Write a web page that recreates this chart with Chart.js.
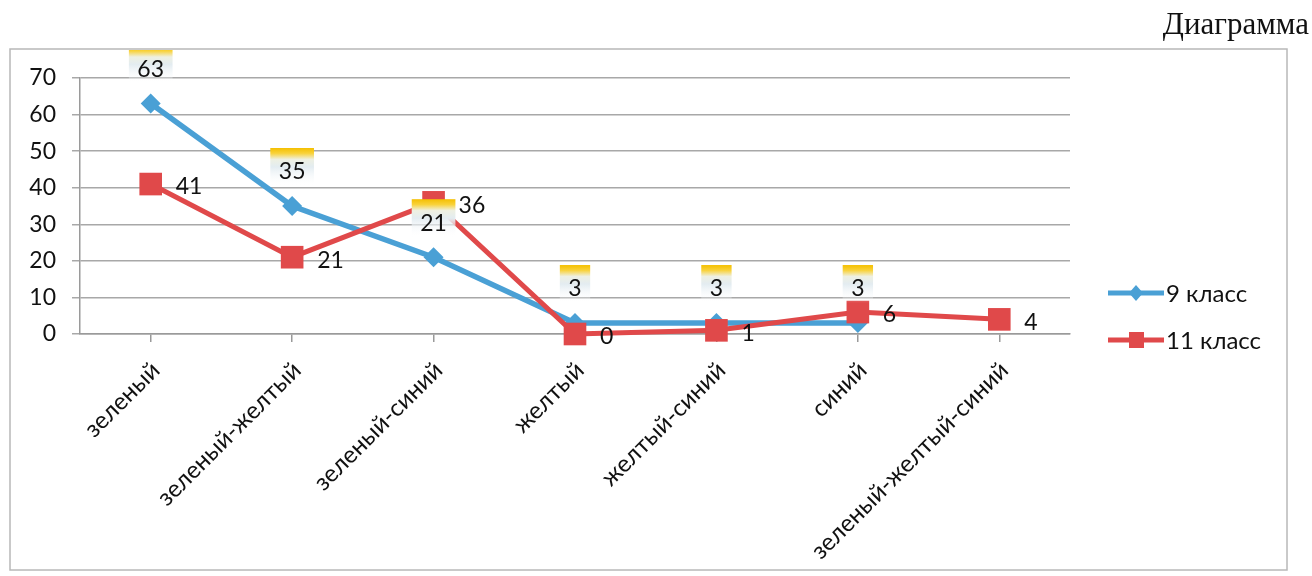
<!DOCTYPE html>
<html>
<head>
<meta charset="utf-8">
<script src="https://cdn.jsdelivr.net/npm/chart.js@4/dist/chart.umd.min.js"></script>
<style>
  html, body { margin: 0; padding: 0; background: #fff; }
  #wrap { width: 1312px; height: 576px; position: relative; }
</style>
</head>
<body>
<div id="wrap"><canvas id="c" width="1312" height="576"></canvas></div>
<script>
const categories = ['зеленый', 'зеленый-желтый', 'зеленый-синий', 'желтый', 'желтый-синий', 'синий', 'зеленый-желтый-синий'];
const grade9 = [63, 35, 21, 3, 3, 3, null];
const grade11 = [41, 21, 36, 0, 1, 6, 4];
const seriesNames = ['9 класс', '11 класс'];
const yMin = 0, yMax = 70, yStep = 10;
const titleText = 'Диаграмма';

const BLUE = '#4aa0d5';
const RED = '#e0494a';
const FONT = 'Lato';
const TXT = '#111';

const frame = { l: 10, t: 49, r: 1287, b: 570 };

const decor = {
  id: 'decor',
  beforeDraw(chart) {
    const ctx = chart.ctx;
    ctx.save();
    ctx.fillStyle = '#fff';
    ctx.fillRect(0, 0, chart.width, chart.height);
    ctx.strokeStyle = '#b8b8b8';
    ctx.lineWidth = 1.5;
    ctx.strokeRect(frame.l, frame.t, frame.r - frame.l, frame.b - frame.t);
    ctx.restore();
  },
  afterDatasetsDraw(chart) {
    const ctx = chart.ctx;
    ctx.save();
    ctx.beginPath();
    ctx.rect(frame.l + 1, frame.t + 1, frame.r - frame.l - 2, frame.b - frame.t - 2);
    ctx.clip();
    ctx.font = '23px ' + FONT;
    ctx.textBaseline = 'middle';
    // series 1 labels: gradient boxes above points
    const m0 = chart.getDatasetMeta(0);
    m0.data.forEach((el, i) => {
      const v = chart.data.datasets[0].data[i];
      if (v === null || v === undefined) return;
      const txt = String(v);
      const w = ctx.measureText(txt).width;
      const bw = w + 17, top = el.y - 58, bh = 38;
      const g = ctx.createLinearGradient(0, top, 0, top + bh);
      g.addColorStop(0, '#f4bf00');
      g.addColorStop(0.14, '#f9d23a');
      g.addColorStop(0.3, '#eef0e2');
      g.addColorStop(0.5, '#e3ecf1');
      g.addColorStop(1, 'rgba(255,255,255,0)');
      ctx.fillStyle = g;
      ctx.fillRect(el.x - bw / 2, top, bw, bh);
      ctx.fillStyle = TXT;
      ctx.textAlign = 'center';
      ctx.fillText(txt, el.x, el.y - 34);
    });
    // series 2 labels: right of points
    const m1 = chart.getDatasetMeta(1);
    m1.data.forEach((el, i) => {
      const v = chart.data.datasets[1].data[i];
      if (v === null || v === undefined) return;
      ctx.fillStyle = TXT;
      ctx.textAlign = 'left';
      ctx.fillText(String(v), el.x + 25, el.y + 3);
    });
    ctx.restore();
  },
  afterDraw(chart) {
    const ctx = chart.ctx;
    ctx.save();
    // legend
    const items = [
      { name: seriesNames[0], color: BLUE, y: 293, shape: 'diamond' },
      { name: seriesNames[1], color: RED, y: 340, shape: 'square' }
    ];
    items.forEach(it => {
      ctx.strokeStyle = it.color;
      ctx.lineWidth = 5;
      ctx.beginPath();
      ctx.moveTo(1108, it.y);
      ctx.lineTo(1164, it.y);
      ctx.stroke();
      ctx.fillStyle = it.color;
      ctx.beginPath();
      if (it.shape === 'diamond') {
        ctx.moveTo(1136, it.y - 8);
        ctx.lineTo(1143, it.y);
        ctx.lineTo(1136, it.y + 8);
        ctx.lineTo(1129, it.y);
        ctx.closePath();
      } else {
        ctx.rect(1129, it.y - 8, 15, 16);
      }
      ctx.fill();
      ctx.fillStyle = TXT;
      ctx.font = '24px ' + FONT;
      ctx.textAlign = 'left';
      ctx.textBaseline = 'middle';
      ctx.fillText(it.name, 1166, it.y + 1);
    });
    // title
    ctx.font = '31px "Liberation Serif"';
    ctx.fillStyle = '#111';
    ctx.textAlign = 'right';
    ctx.textBaseline = 'alphabetic';
    ctx.fillText(titleText, 1309, 34);
    ctx.restore();
  }
};

new Chart(document.getElementById('c'), {
  type: 'line',
  data: {
    labels: categories,
    datasets: [
      {
        label: seriesNames[0],
        data: grade9,
        borderColor: BLUE,
        backgroundColor: BLUE,
        borderWidth: 5.5,
        pointStyle: 'rectRot',
        pointRadius: 10,
        pointBorderWidth: 0,
        pointBackgroundColor: BLUE,
        tension: 0,
        order: 2,
        clip: false
      },
      {
        label: seriesNames[1],
        data: grade11,
        borderColor: RED,
        backgroundColor: RED,
        borderWidth: 5,
        pointStyle: 'rect',
        pointRadius: 16,
        pointBorderWidth: 0,
        pointBackgroundColor: RED,
        tension: 0,
        order: 1,
        clip: false
      }
    ]
  },
  options: {
    responsive: false,
    animation: false,
    devicePixelRatio: 1,
    layout: { padding: { left: 10, top: 78, right: 242, bottom: 0 } },
    plugins: {
      legend: { display: false },
      title: { display: false },
      tooltip: { enabled: false }
    },
    scales: {
      x: {
        type: 'category',
        offset: true,
        grid: { display: true, drawOnChartArea: false, drawTicks: true, tickLength: 8, color: '#9a9a9a', lineWidth: 1.5 },
        border: { display: true, color: '#9a9a9a', width: 1.5 },
        ticks: {
          autoSkip: false,
          minRotation: 45,
          maxRotation: 45,
          labelOffset: 5,
          padding: 14,
          color: TXT,
          font: { family: FONT, size: 24 }
        },
        afterFit(s) { s.height = 242; }
      },
      y: {
        min: yMin,
        max: yMax,
        ticks: {
          stepSize: yStep,
          padding: 16,
          color: TXT,
          font: { family: FONT, size: 23 }
        },
        grid: { color: '#a8a8a8', lineWidth: 1.5, tickLength: 8, drawTicks: true },
        border: { display: true, color: '#9a9a9a', width: 1.5 },
        afterFit(s) { s.width = 70; }
      }
    }
  },
  plugins: [decor]
});
</script>
</body>
</html>
